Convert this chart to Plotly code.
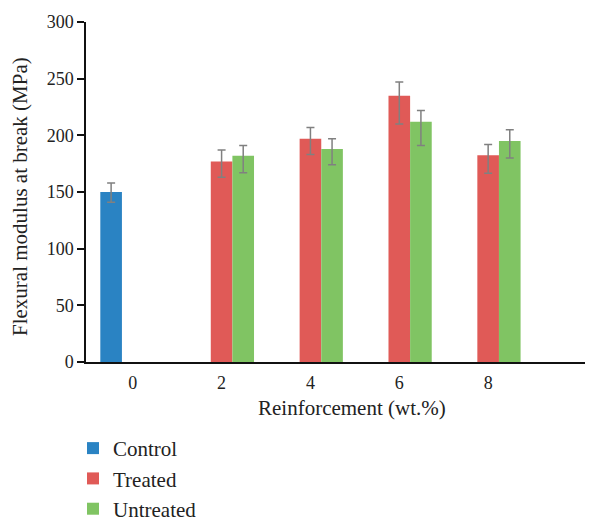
import plotly.graph_objects as go

categories = ["0", "2", "4", "6", "8"]
control = [150, None, None, None, None]
control_err_plus = [8, None, None, None, None]
control_err_minus = [9, None, None, None, None]
treated = [None, 177, 197, 235, 182.5]
treated_err_plus = [None, 10, 10, 12, 9.5]
treated_err_minus = [None, 14, 14, 25, 16]
untreated = [None, 182, 188, 212, 195]
untreated_err_plus = [None, 9, 9, 10, 10]
untreated_err_minus = [None, 15, 14, 21, 15]

FONT = "Liberation Serif, Times New Roman, serif"
TXT = "#222222"
ERR = "#808080"

fig = go.Figure()
for name, vals, ep, em, col in [
    ("Control", control, control_err_plus, control_err_minus, "#2A83C3"),
    ("Treated", treated, treated_err_plus, treated_err_minus, "#E05A57"),
    ("Untreated", untreated, untreated_err_plus, untreated_err_minus, "#80C463"),
]:
    fig.add_trace(go.Bar(
        x=categories, y=vals, name=name, marker=dict(color=col, line=dict(width=0)),
        error_y=dict(type="data", symmetric=False, array=ep, arrayminus=em,
                     color=ERR, thickness=1.5, width=4),
    ))

# page body adds an 8px offset; margins compensate so the plot sits at x 86-585, y 22-362
fig.update_layout(
    width=600, height=521,
    margin=dict(l=78, r=23, t=14, b=167, autoexpand=False),
    plot_bgcolor="white", paper_bgcolor="white",
    barmode="group", bargap=0.27, bargroupgap=0,
    font=dict(family=FONT, size=18, color=TXT),
    showlegend=True,
    legend=dict(x=-0.026, y=-0.194, xanchor="left", yanchor="top", orientation="v",
                font=dict(family=FONT, size=21, color=TXT),
                tracegroupgap=0, itemwidth=30, bgcolor="rgba(0,0,0,0)"),
    xaxis=dict(type="category", range=[-0.526, 5.09], showline=True, linecolor="#111111",
               linewidth=1.5, ticks="", showgrid=False, zeroline=False, automargin=False,
               ticklabelstandoff=4,
               tickfont=dict(family=FONT, size=18, color=TXT)),
    yaxis=dict(range=[0, 300], dtick=50, showline=True, linecolor="#111111", linewidth=1.5,
               ticks="outside", ticklen=7, tickcolor="#111111", tickwidth=1.5,
               showgrid=False, zeroline=False, automargin=False,
               tickfont=dict(family=FONT, size=18, color=TXT)),
)
fig.add_annotation(text="Reinforcement (wt.%)", xref="paper", yref="paper",
                   x=(352 - 86) / 499, y=-(408 - 362) / 340, xanchor="center", yanchor="middle",
                   showarrow=False, font=dict(family=FONT, size=21, color=TXT))
fig.add_annotation(text="Flexural modulus at break (MPa)", xref="paper", yref="paper",
                   x=(20 - 86) / 499, y=(362 - 197) / 340, xanchor="center", yanchor="middle",
                   textangle=-90, showarrow=False, font=dict(family=FONT, size=21, color=TXT))

fig.write_html("out.html")
